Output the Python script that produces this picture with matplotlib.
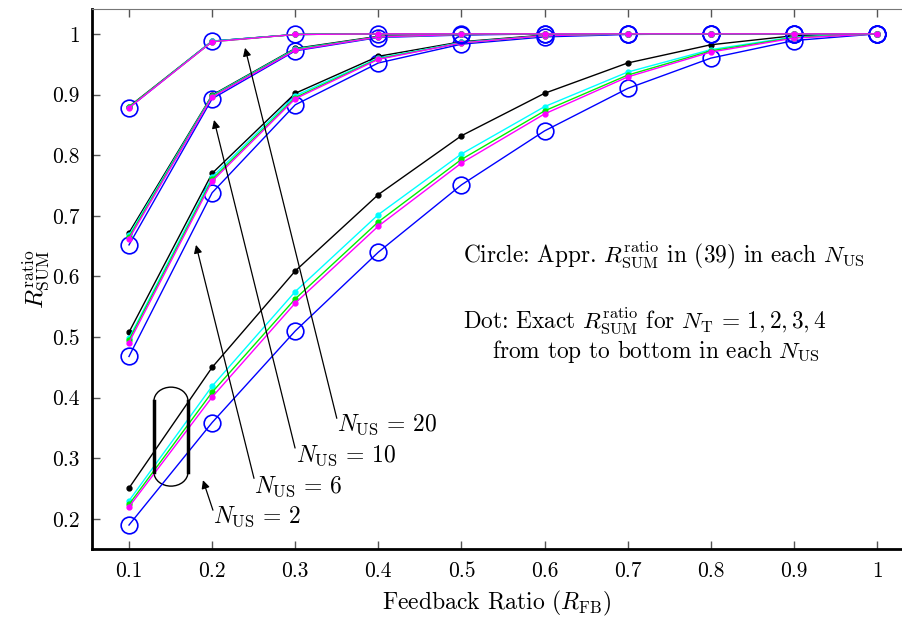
import matplotlib
matplotlib.use("Agg")
import matplotlib.pyplot as plt
import matplotlib.patches as patches

plt.rcParams['font.family'] = 'serif'
plt.rcParams['font.serif'] = ['cmr10']
plt.rcParams['mathtext.fontset'] = 'cm'
plt.rcParams['axes.formatter.use_mathtext'] = True

# feedback ratio
x = [0.1, 0.2, 0.3, 0.4, 0.5, 0.6, 0.7, 0.8, 0.9, 1.0]

# N_US = 2
us2_nt1 = [0.251, 0.450, 0.609, 0.735, 0.832, 0.902, 0.952, 0.982, 0.997, 1.0]
us2_nt2 = [0.230, 0.419, 0.575, 0.702, 0.802, 0.880, 0.937, 0.974, 0.995, 1.0]
us2_nt3 = [0.224, 0.409, 0.563, 0.690, 0.793, 0.873, 0.932, 0.972, 0.994, 1.0]
us2_nt4 = [0.220, 0.401, 0.556, 0.683, 0.787, 0.868, 0.929, 0.970, 0.993, 1.0]
us2_appr = [0.190, 0.359, 0.510, 0.640, 0.751, 0.840, 0.910, 0.960, 0.989, 1.0]

# N_US = 6
us6_nt1 = [0.508, 0.770, 0.902, 0.963, 0.987, 0.998, 1.0, 1.0, 1.0, 1.0]
us6_nt2 = [0.498, 0.764, 0.898, 0.960, 0.986, 0.997, 1.0, 1.0, 1.0, 1.0]
us6_nt3 = [0.495, 0.760, 0.895, 0.959, 0.985, 0.997, 1.0, 1.0, 1.0, 1.0]
us6_nt4 = [0.491, 0.757, 0.893, 0.958, 0.985, 0.997, 1.0, 1.0, 1.0, 1.0]
us6_appr = [0.468, 0.738, 0.883, 0.952, 0.983, 0.995, 0.999, 1.0, 1.0, 1.0]

# N_US = 10
us10_nt1 = [0.672, 0.899, 0.976, 0.996, 0.999, 1.0, 1.0, 1.0, 1.0, 1.0]
us10_nt2 = [0.668, 0.898, 0.975, 0.995, 0.999, 1.0, 1.0, 1.0, 1.0, 1.0]
us10_nt3 = [0.665, 0.897, 0.974, 0.995, 0.999, 1.0, 1.0, 1.0, 1.0, 1.0]
us10_nt4 = [0.662, 0.896, 0.973, 0.995, 0.999, 1.0, 1.0, 1.0, 1.0, 1.0]
us10_appr = [0.652, 0.893, 0.972, 0.994, 0.998, 1.0, 1.0, 1.0, 1.0, 1.0]

# N_US = 20
us20_nt1 = [0.880, 0.988, 0.999, 1.0, 1.0, 1.0, 1.0, 1.0, 1.0, 1.0]
us20_nt2 = [0.879, 0.988, 0.999, 1.0, 1.0, 1.0, 1.0, 1.0, 1.0, 1.0]
us20_nt3 = [0.879, 0.987, 0.999, 1.0, 1.0, 1.0, 1.0, 1.0, 1.0, 1.0]
us20_nt4 = [0.878, 0.987, 0.999, 1.0, 1.0, 1.0, 1.0, 1.0, 1.0, 1.0]
us20_appr = [0.878, 0.988, 0.999, 1.0, 1.0, 1.0, 1.0, 1.0, 1.0, 1.0]

groups = [
    (us2_appr, [us2_nt1, us2_nt2, us2_nt3, us2_nt4]),
    (us6_appr, [us6_nt1, us6_nt2, us6_nt3, us6_nt4]),
    (us10_appr, [us10_nt1, us10_nt2, us10_nt3, us10_nt4]),
    (us20_appr, [us20_nt1, us20_nt2, us20_nt3, us20_nt4]),
]
nt_colors = ['black', '#00ffff', '#00ee00', '#ff00ff']

fig = plt.figure(figsize=(9.02, 6.18), dpi=100)
ax = fig.add_axes([92 / 902, 69 / 618, 810 / 902, 540 / 618])

for appr, exact in groups:
    ax.plot(x, appr, color='blue', lw=1.0, marker='o', ms=12,
            mfc='none', mec='blue', mew=1.2)
    for vals, c in zip(exact, nt_colors):
        ax.plot(x, vals, color=c, lw=1.0, marker='o', ms=3.5, mfc=c, mec=c)

ax.set_xlim(0.0555, 1.030)
ax.set_ylim(0.1505, 1.041)
ax.set_xticks(x)
ax.set_xticklabels(['0.1', '0.2', '0.3', '0.4', '0.5', '0.6', '0.7', '0.8', '0.9', '1'])
ax.set_yticks([0.2, 0.3, 0.4, 0.5, 0.6, 0.7, 0.8, 0.9, 1.0])
ax.set_yticklabels(['0.2', '0.3', '0.4', '0.5', '0.6', '0.7', '0.8', '0.9', '1'])
ax.tick_params(direction='in', length=6, width=1, color='#555555',
               labelsize=15.5, top=True, pad=9)
ax.spines['right'].set_visible(False)
ax.spines['top'].set_color('#777777')
ax.spines['left'].set_linewidth(2)
ax.spines['bottom'].set_linewidth(2)

ax.set_xlabel(r'Feedback Ratio ($R_{\mathrm{FB}}$)', fontsize=17, labelpad=6)
ax.set_ylabel(r'$R_{\mathrm{SUM}}^{\mathrm{ratio}}$', fontsize=18, labelpad=0)

# annotations
arrow = dict(arrowstyle='-|>', color='black', lw=0.9, mutation_scale=12,
             shrinkA=0, shrinkB=0)
ax.annotate('', xy=(0.2396, 0.977), xytext=(0.350, 0.366), arrowprops=arrow)
ax.annotate(r'$N_{\mathrm{US}}\,=\,20$', xy=(0.350, 0.355), fontsize=17,
            va='center', ha='left')
ax.annotate('', xy=(0.2023, 0.858), xytext=(0.2998, 0.317), arrowprops=arrow)
ax.annotate(r'$N_{\mathrm{US}}\,=\,10$', xy=(0.301, 0.3036), fontsize=17,
            va='center', ha='left')
ax.annotate('', xy=(0.1806, 0.652), xytext=(0.2504, 0.267), arrowprops=arrow)
ax.annotate(r'$N_{\mathrm{US}}\,=\,6$', xy=(0.2504, 0.2525), fontsize=17,
            va='center', ha='left')
ax.annotate('', xy=(0.189, 0.264), xytext=(0.201, 0.2145), arrowprops=arrow)
ax.annotate(r'$N_{\mathrm{US}}\,=\,2$', xy=(0.201, 0.203), fontsize=17,
            va='center', ha='left')

# stadium marking the N_US = 2 group at R_FB = 0.1 .. 0.2
ax.add_patch(patches.Arc((0.1505, 0.3944), 0.041, 0.046, theta1=0, theta2=180,
                         color='black', lw=1.0))
ax.add_patch(patches.Arc((0.1505, 0.2772), 0.041, 0.046, theta1=180, theta2=360,
                         color='black', lw=1.0))
ax.plot([0.1300, 0.1300], [0.2772, 0.3944], color='black', lw=2.5)
ax.plot([0.1710, 0.1710], [0.2772, 0.3944], color='black', lw=2.5)

ax.text(0.502, 0.635, r'Circle: Appr. $R_{\mathrm{SUM}}^{\mathrm{ratio}}$ in (39) in each $N_{\mathrm{US}}$',
        fontsize=16.8, va='center', ha='left')
ax.text(0.502, 0.527, r'Dot: Exact $R_{\mathrm{SUM}}^{\mathrm{ratio}}$ for $N_{\mathrm{T}}\,=\,1,2,3,4$',
        fontsize=16.8, va='center', ha='left')
ax.text(0.537, 0.476, r'from top to bottom in each $N_{\mathrm{US}}$',
        fontsize=16.8, va='center', ha='left')

fig.savefig('out.png', dpi=100)
